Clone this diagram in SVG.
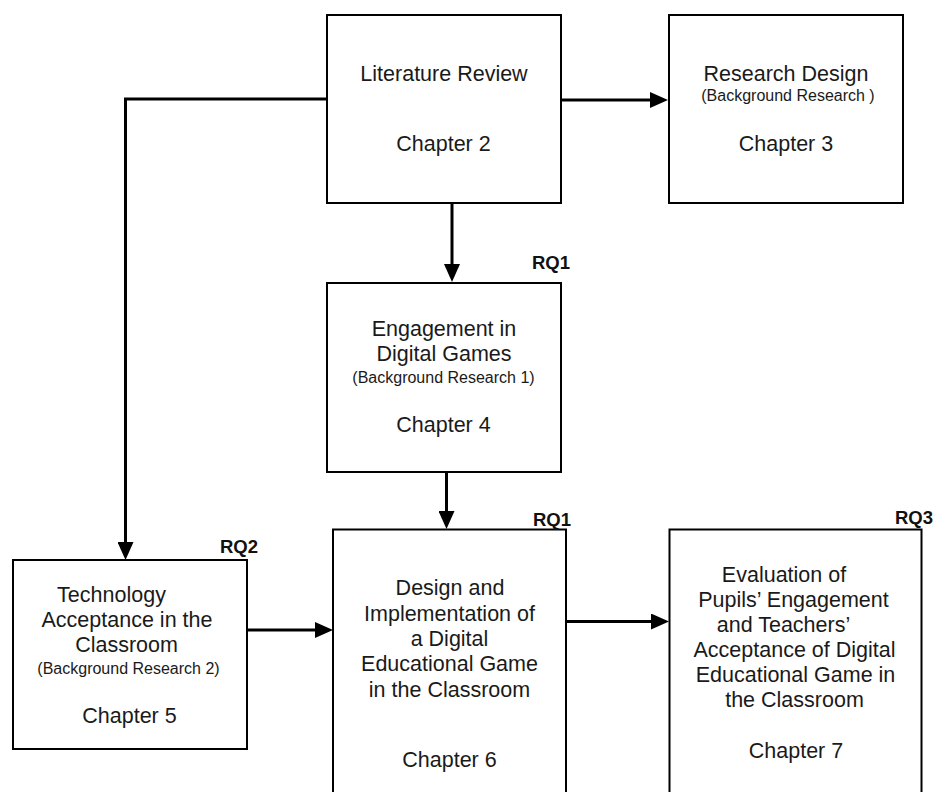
<svg xmlns="http://www.w3.org/2000/svg" width="936" height="792" viewBox="0 0 936 792">
  <style>
    .box { fill: #ffffff; stroke: #000000; stroke-width: 2; }
    .t { font-family: "Liberation Sans", Arial, Helvetica, sans-serif; font-size: 21.5px; fill: #1a1a1a; text-anchor: middle; }
    .s { font-family: "Liberation Sans", Arial, Helvetica, sans-serif; font-size: 16px; fill: #1a1a1a; text-anchor: middle; }
    .rq { font-family: "Liberation Sans", Arial, Helvetica, sans-serif; font-size: 18.5px; font-weight: bold; fill: #111111; text-anchor: end; }
    .edge { fill: none; stroke: #000000; stroke-width: 3; }
  </style>
  <defs>
    <marker id="arrow" markerUnits="userSpaceOnUse" markerWidth="18" markerHeight="16" refX="0" refY="8" orient="auto">
      <path d="M0,0 L18,8 L0,16 Z" fill="#000000"/>
    </marker>
  </defs>

  <rect width="936" height="792" fill="#ffffff"/>

  <!-- connectors (lines stop at the arrowhead base; the marker supplies the tip) -->
  <g id="connectors">
    <line class="edge" x1="561" y1="100" x2="650" y2="100" marker-end="url(#arrow)"/>
    <line class="edge" x1="452" y1="203" x2="452" y2="264" marker-end="url(#arrow)"/>
    <polyline class="edge" points="327,99 125.5,99 125.5,542" marker-end="url(#arrow)"/>
    <line class="edge" x1="446.5" y1="472" x2="446.5" y2="511" marker-end="url(#arrow)"/>
    <line class="edge" x1="247" y1="630" x2="315" y2="630" marker-end="url(#arrow)"/>
    <line class="edge" x1="566" y1="621.5" x2="651" y2="621.5" marker-end="url(#arrow)"/>
  </g>

  <!-- Chapter 2 -->
  <g id="literature-review">
    <rect class="box" x="327" y="15" width="234" height="188"/>
    <text class="t" x="444" y="80.5">Literature Review</text>
    <text class="t" x="443.5" y="150.5">Chapter 2</text>
  </g>

  <!-- Chapter 3 -->
  <g id="research-design">
    <rect class="box" x="669" y="15" width="234" height="188"/>
    <text class="t" x="786" y="80.5">Research Design</text>
    <text class="s" x="788" y="101">(Background Research )</text>
    <text class="t" x="786" y="150.5">Chapter 3</text>
  </g>

  <!-- Chapter 4 -->
  <g id="engagement">
    <rect class="box" x="327" y="283" width="234" height="189"/>
    <text class="t" x="444" y="336">Engagement in</text>
    <text class="t" x="444" y="361">Digital Games</text>
    <text class="s" x="443.5" y="383">(Background Research 1)</text>
    <text class="t" x="443.5" y="432">Chapter 4</text>
    <text class="rq" x="570" y="269">RQ1</text>
  </g>

  <!-- Chapter 5 -->
  <g id="technology-acceptance">
    <rect class="box" x="13" y="560" width="234" height="189"/>
    <text class="t" x="111.5" y="602">Technology</text>
    <text class="t" x="127" y="626.5">Acceptance in the</text>
    <text class="t" x="126.5" y="652">Classroom</text>
    <text class="s" x="128.5" y="674">(Background Research 2)</text>
    <text class="t" x="129.5" y="723">Chapter 5</text>
    <text class="rq" x="258" y="553">RQ2</text>
  </g>

  <!-- Chapter 6 -->
  <g id="design-implementation">
    <rect class="box" x="333" y="529.5" width="233" height="280"/>
    <text class="t" x="450" y="595">Design and</text>
    <text class="t" x="449.5" y="620.5">Implementation of</text>
    <text class="t" x="449.5" y="646">a Digital</text>
    <text class="t" x="449.5" y="671">Educational Game</text>
    <text class="t" x="449.5" y="696.5">in the Classroom</text>
    <text class="t" x="449.5" y="767">Chapter 6</text>
    <text class="rq" x="571" y="525.5">RQ1</text>
  </g>

  <!-- Chapter 7 -->
  <g id="evaluation">
    <rect class="box" x="669.5" y="529.5" width="252" height="280"/>
    <text class="t" x="784" y="582">Evaluation of</text>
    <text class="t" x="793.5" y="607">Pupils’ Engagement</text>
    <text class="t" x="783.5" y="632">and Teachers’</text>
    <text class="t" x="794.5" y="657">Acceptance of Digital</text>
    <text class="t" x="795.5" y="682">Educational Game in</text>
    <text class="t" x="794.5" y="707">the Classroom</text>
    <text class="t" x="796" y="758">Chapter 7</text>
    <text class="rq" x="933" y="523.5">RQ3</text>
  </g>
</svg>
